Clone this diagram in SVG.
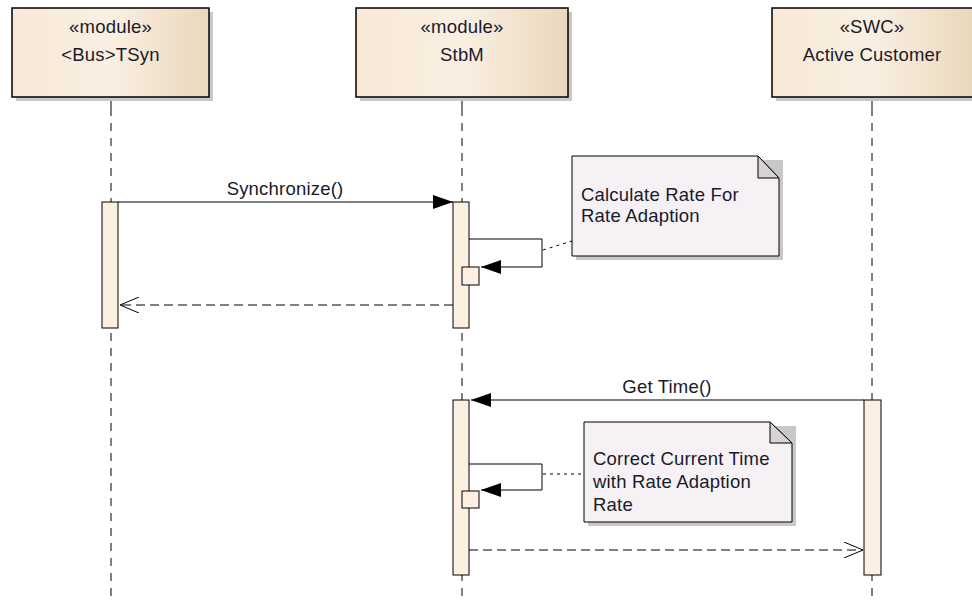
<svg xmlns="http://www.w3.org/2000/svg" width="972" height="600" viewBox="0 0 972 600">
<defs>
<linearGradient id="hdr" x1="0" y1="0" x2="1" y2="0">
<stop offset="0" stop-color="#f7e9d6"/>
<stop offset="0.5" stop-color="#faefe2"/>
<stop offset="1" stop-color="#ead8bc"/>
</linearGradient>
<marker id="filled" viewBox="0 0 20 14" refX="20" refY="7" markerWidth="20" markerHeight="14" markerUnits="userSpaceOnUse" orient="auto">
<path d="M0,0 L20,7 L0,14 Z" fill="#000"/>
</marker>
<marker id="open" viewBox="0 0 20 16" refX="19" refY="8" markerWidth="20" markerHeight="16" markerUnits="userSpaceOnUse" orient="auto">
<path d="M0,0 L19,8 L0,16" fill="none" stroke="#000" stroke-width="1"/>
</marker>
</defs>
<style>
.hdr{fill:url(#hdr);stroke:#000;stroke-width:1.5}
.shadow{fill:#c8c8c8}
.txt{font-family:"Liberation Sans",Arial,sans-serif;font-size:18.5px;letter-spacing:0.2px;fill:#1a1a2a;text-anchor:middle}
.ntxt{font-family:"Liberation Sans",Arial,sans-serif;font-size:18.5px;letter-spacing:0.2px;fill:#1a1a2a}
.life{stroke:#000;stroke-width:1;stroke-dasharray:8,7;fill:none}
.act{fill:#fbf0e2;stroke:#000;stroke-width:1}
.msg{stroke:#000;stroke-width:1;fill:none}
.ret{stroke:#000;stroke-width:1;fill:none;stroke-dasharray:9,5}
.note{fill:#f6f1f5;stroke:#000;stroke-width:1}
.fold{fill:#d6d2d6;stroke:#000;stroke-width:1}
.link{stroke:#000;stroke-width:1;stroke-dasharray:3,4;fill:none}
</style>
<rect width="972" height="600" fill="#fff"/>

<g id="lifeline-tsyn">
<line x1="111" y1="97" x2="111" y2="108" stroke="#000"/>
<line class="life" x1="111" y1="108" x2="111" y2="600"/>
<rect class="shadow" x="16" y="12" width="197" height="89"/>
<rect class="hdr" x="12" y="8" width="197" height="89"/>
<text class="txt" x="110.5" y="33">«module»</text>
<text class="txt" x="110.5" y="61">&lt;Bus&gt;TSyn</text>
<rect class="act" x="102" y="202" width="16" height="126"/>
</g>

<g id="lifeline-stbm">
<line x1="462" y1="97" x2="462" y2="108" stroke="#000"/>
<line class="life" x1="462" y1="108" x2="462" y2="600"/>
<rect class="shadow" x="360" y="12" width="212" height="89"/>
<rect class="hdr" x="356" y="8" width="212" height="89"/>
<text class="txt" x="462" y="33">«module»</text>
<text class="txt" x="462" y="61">StbM</text>
<rect class="act" x="453" y="202" width="16" height="126"/>
<rect class="act" x="453" y="400" width="16" height="175"/>
<rect class="act" x="462" y="267" width="17" height="18"/>
<rect class="act" x="462" y="491" width="17" height="17"/>
</g>

<g id="lifeline-customer">
<line x1="872" y1="97" x2="872" y2="108" stroke="#000"/>
<line class="life" x1="872" y1="108" x2="872" y2="600"/>
<rect class="shadow" x="776" y="12" width="200" height="89"/>
<rect class="hdr" x="772" y="8" width="201" height="89"/>
<text class="txt" x="872" y="33">«SWC»</text>
<text class="txt" x="872" y="61">Active Customer</text>
<rect class="act" x="864" y="400" width="17" height="175"/>
</g>

<g id="note-rate">
<path class="shadow" d="M576,160 L783,160 L783,260 L576,260 Z"/>
<path class="note" d="M572,156 L758,156 L779,178 L779,256 L572,256 Z"/>
<path class="fold" d="M758,156 L758,178 L779,178 Z"/>
<text class="ntxt" x="581" y="201">Calculate Rate For</text>
<text class="ntxt" x="581" y="222">Rate Adaption</text>
</g>

<g id="note-correct">
<path class="shadow" d="M588,426 L796,426 L796,526 L588,526 Z"/>
<path class="note" d="M584,422 L770,422 L792,443 L792,522 L584,522 Z"/>
<path class="fold" d="M770,422 L770,443 L792,443 Z"/>
<text class="ntxt" x="593" y="465">Correct Current Time</text>
<text class="ntxt" x="593" y="488">with Rate Adaption</text>
<text class="ntxt" x="593" y="511">Rate</text>
</g>

<g id="connectors">
<line class="msg" x1="118" y1="202" x2="453" y2="202" marker-end="url(#filled)"/>
<text class="txt" x="285" y="195">Synchronize()</text>
<polyline class="msg" points="469,239 542,239 542,267 481,267" marker-end="url(#filled)"/>
<line class="link" x1="543" y1="250" x2="572" y2="241"/>
<line class="ret" x1="453" y1="305" x2="120" y2="305" marker-end="url(#open)"/>

<line class="msg" x1="864" y1="400" x2="471" y2="400" marker-end="url(#filled)"/>
<text class="txt" x="667" y="393">Get Time()</text>
<polyline class="msg" points="469,464 542,464 542,490 481,490" marker-end="url(#filled)"/>
<line class="link" x1="543" y1="474" x2="584" y2="474"/>
<line class="ret" x1="469" y1="550" x2="863" y2="550" marker-end="url(#open)"/>
</g>
</svg>
